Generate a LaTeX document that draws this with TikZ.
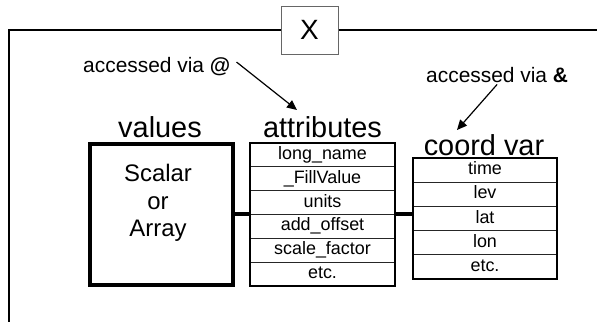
\documentclass[tikz,border=0pt]{standalone}
\usepackage{fontspec}
\setmainfont{Liberation Sans}
\usetikzlibrary{arrows.meta}

\begin{document}
\begin{tikzpicture}[x=1bp,y=-1bp,>={Triangle[length=10bp,width=9bp]},
cella/.style={rectangle,draw=black!85,line width=0.8bp,minimum width=145bp,minimum height=23.83bp,inner sep=0pt,text height=13bp,text depth=4bp,font=\fontsize{18}{20}\selectfont},
cellc/.style={cella,minimum width=144bp,minimum height=24.2bp},
heading/.style={anchor=base,inner sep=0pt,font=\fontsize{29}{32}\selectfont},
note/.style={anchor=base west,inner sep=2bp,font=\fontsize{21}{24}\selectfont},
link/.style={line width=4bp}
]
\useasboundingbox (0,0) rectangle (597,322);

% frame with the variable name
\node[draw=black!60,line width=1bp,minimum width=57bp,minimum height=48bp,font=\fontsize{28}{30}\selectfont](xbox) at (309.5,30){X};
\coordinate (tl) at (9,30);
\coordinate (bl) at (9,322);
\coordinate (tr) at (597,30);
\draw[line width=1.2bp] (xbox.west)--(tl)--(bl);
\draw[line width=1.2bp] (xbox.east)--(tr);

\node[heading](valhead) at (160,137){values};
\node[heading](attrhead) at (322.5,137){attributes};
\node[heading](coordhead) at (484,155){coord var};

\node[draw,line width=4bp,minimum width=143bp,minimum height=141.5bp](values) at (161.5,214.25){};
\node[align=center,inner sep=0pt,font=\fontsize{24}{27.5}\selectfont](valtext) at (158,203){Scalar\\or\\Array};

% attributes
\node[cella](a1) at (322.5,154.9){long\_name};
\node[cella](a2) at (322.5,178.7){\_FillValue};
\node[cella](a3) at (322.5,202.6){units};
\node[cella](a4) at (322.5,226.4){add\_offset};
\node[cella](a5) at (322.5,250.3){scale\_factor};
\node[cella](a6) at (322.5,274.1){etc.};
\draw[line width=2bp] (a1.north west) rectangle (a6.south east);

% coordinate variables
\node[cellc](c1) at (485,170.1){time};
\node[cellc](c2) at (485,194.3){lev};
\node[cellc](c3) at (485,218.5){lat};
\node[cellc](c4) at (485,242.7){lon};
\node[cellc](c5) at (485,266.9){etc.};
\draw[line width=2bp] (c1.north west) rectangle (c5.south east);

\node[note](atnote) at (81,72){accessed via \textbf{@}};
\node[note](ampnote) at (424,82){accessed via \textbf{\&}};
\coordinate (attip) at (297,110);
\coordinate (amptip) at (457,130);

\begin{scope}[line width=1.2bp]
\draw[->] ([shift={(4,-4)}]atnote.east)--(attip);
\draw[->] (ampnote.south)--(amptip);
\end{scope}

\draw[link] (values.east)--(values.east -| a1.west);
\draw[link] (a4.north east)--(a4.north east -| c3.west);
\end{tikzpicture}
\end{document}
